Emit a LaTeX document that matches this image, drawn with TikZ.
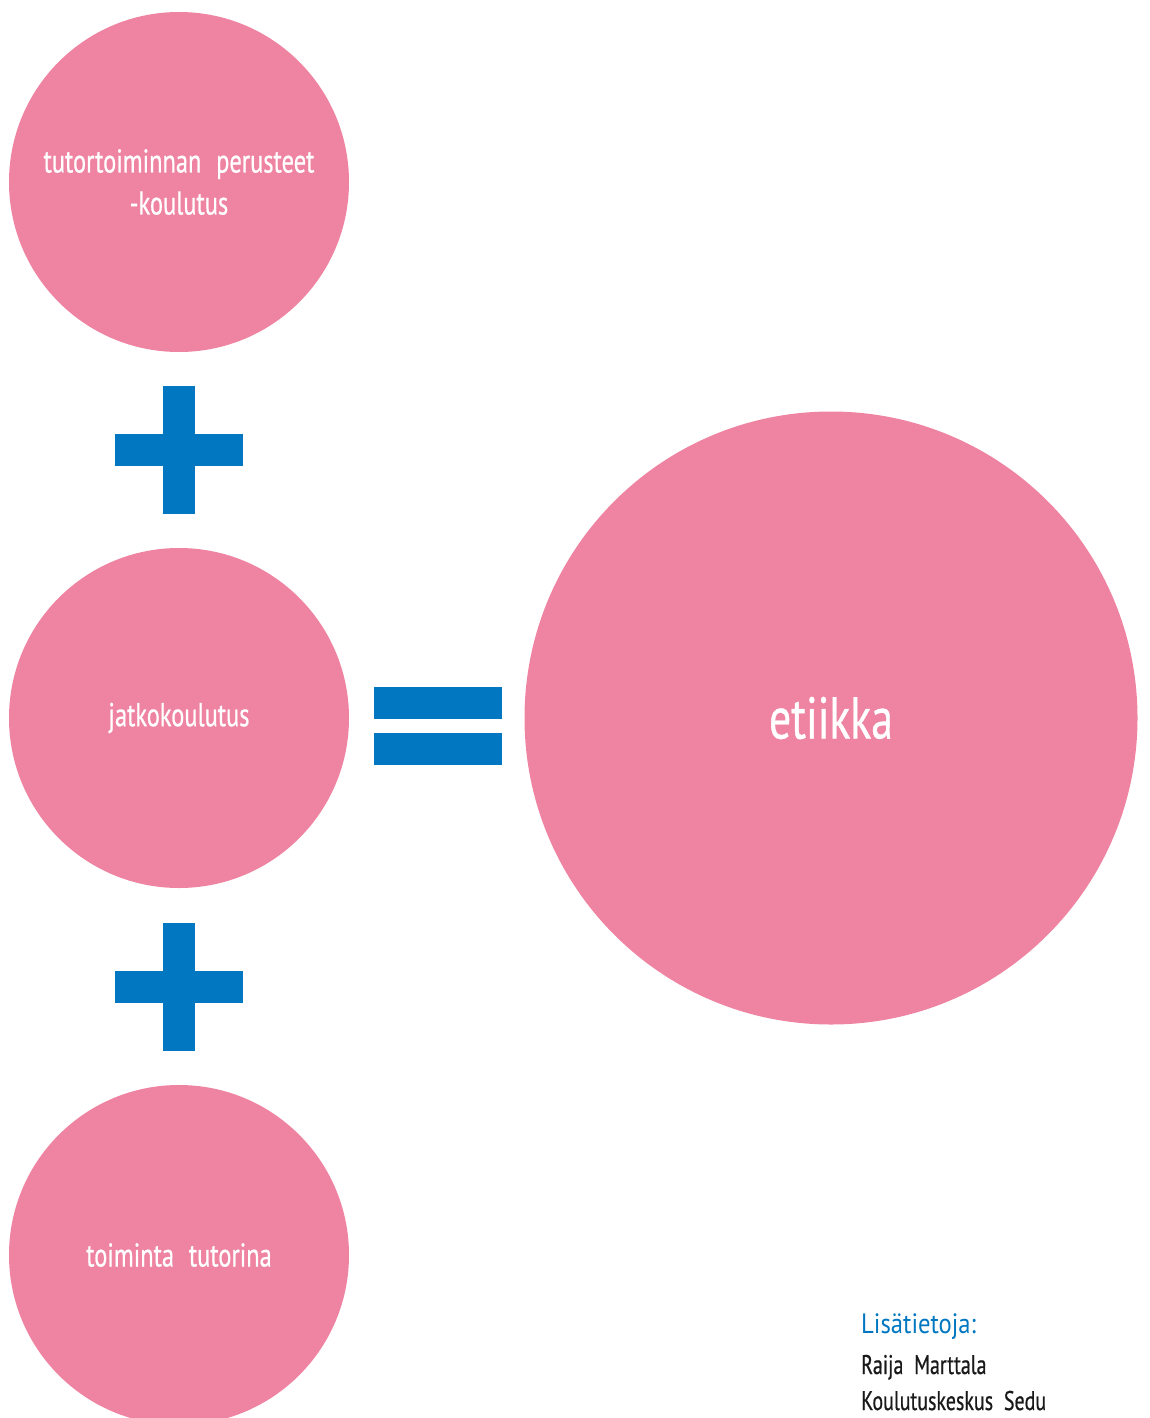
\documentclass[tikz,border=0pt]{standalone}
\usepackage{fontspec}
\setmainfont{PT Sans}[FakeStretch=0.74,FakeBold=0.6]
\newfontfamily\lisafont{PT Sans}[FakeStretch=0.88]
\usetikzlibrary{positioning}
\definecolor{ballpink}{RGB}{239,131,162}
\definecolor{sedublue}{RGB}{0,119,192}
\definecolor{infogray}{RGB}{25,25,25}

\begin{document}
\begin{tikzpicture}[x=1pt,y=-1pt,
  ball/.style={circle,fill=ballpink,text=white,minimum size=340pt,inner sep=0pt,align=center,font=\fontsize{33}{42}\selectfont},
  bigball/.style={ball,minimum size=613pt,font=\fontsize{59}{72}\selectfont},
  info/.style={anchor=base west,inner sep=0pt,text=infogray,font=\fontsize{27}{34}\selectfont}]
\useasboundingbox (0,0) rectangle (1149,1418);
\clip (0,0) rectangle (1149,1418);
\node[ball] (perus) at (179,182) {tutortoiminnan\hspace{0.45em}perusteet\\-koulutus};
\node[ball] (jatko) at (179,718) {jatkokoulutus};
\node[ball] (toim) at (179,1255) {toiminta\hspace{0.45em}tutorina};
\node[bigball] (etiikka) at (831,718) {etiikka};

\fill[sedublue] (163,386) rectangle (195,514);
\fill[sedublue] (115,434) rectangle (243,466);
\fill[sedublue] (163,923) rectangle (195,1051);
\fill[sedublue] (115,971) rectangle (243,1003);
\fill[sedublue] (374,687) rectangle (502,719);
\fill[sedublue] (374,733) rectangle (502,765);

\node[info,text=sedublue,font=\lisafont\fontsize{28}{34}\selectfont] (lisa) at (861,1333) {Lisätietoja:};
\node[info] (nimi) at (861,1374) {Raija\hspace{0.4em}Marttala};
\node[info] (sedu) at (861,1410) {Koulutuskeskus\hspace{0.4em}Sedu};
\end{tikzpicture}
\end{document}
